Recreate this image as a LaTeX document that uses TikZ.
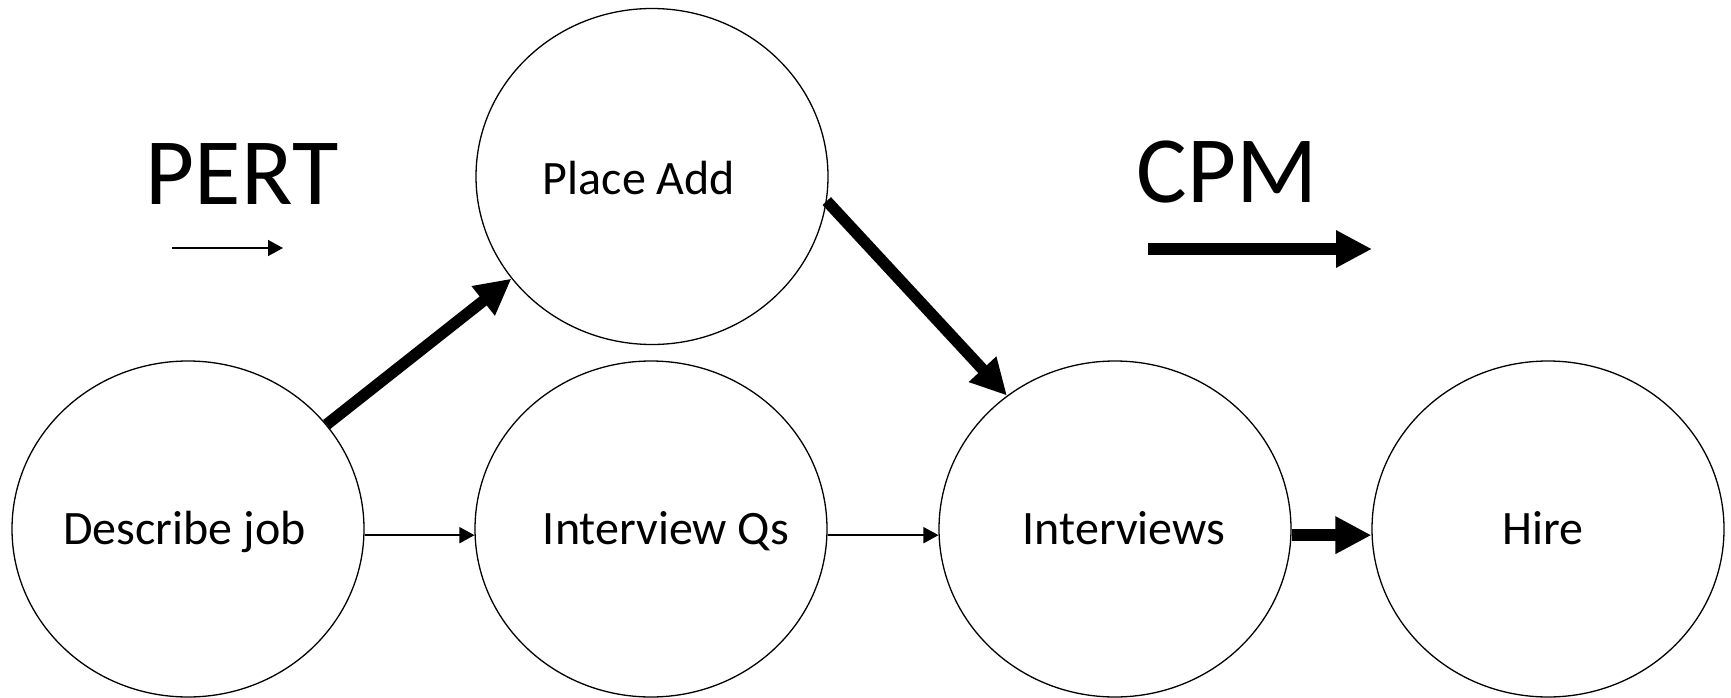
\documentclass[tikz,border=0pt]{standalone}
\usepackage{fontspec}
\setmainfont{Carlito}
\usetikzlibrary{arrows.meta,shapes.geometric}
\begin{document}
\begin{tikzpicture}[x=1pt,y=-1pt,
  event/.style={ellipse, draw=black, line width=1.3pt, minimum width=352pt,
                minimum height=336pt, inner sep=0pt},
  lbl/.style={font=\fontsize{48}{52}\selectfont, anchor=base, inner sep=0pt},
  heading/.style={font=\fontsize{95}{100}\selectfont, anchor=base, inner sep=0pt},
  pertarrow/.style={line width=1.5pt, -{Triangle[length=15pt,width=16pt]}},
  cpmarrow/.style={line width=11.5pt, -{Triangle[length=36pt,width=35pt]}}
]
\useasboundingbox (0,0) rectangle (1731,698);

% events
\node[event] (dj) at (188,529) {};
\node[event] (pa) at (652,176.5) {};
\node[event] (qs) at (651,529) {};
\node[event] (iv) at (1115,529) {};
\node[event] (hi) at (1548,529) {};

% event names
\node[lbl] (djt) at (184.5,544) {Describe job};
\node[lbl] (pat) at (639,194) {Place Add};
\node[lbl] (qst) at (666,544) {Interview Qs};
\node[lbl] (ivt) at (1124,544) {Interviews};
\node[lbl] (hit) at (1543,544) {Hire};

% legend
\node[heading] (pert) at (242,204) {PERT};
\node[heading] (cpm) at (1227,202) {CPM};
\coordinate (pert1) at (172,248);
\coordinate (pert2) at (283,248);
\coordinate (cpm1) at (1148,249);
\coordinate (cpm2) at (1372,249);
\draw[pertarrow] (pert1) -- (pert2);
\draw[cpmarrow] (cpm1) -- (cpm2);

% activities
\draw[pertarrow] (dj.-2.7) -- (qs.182.7);
\draw[pertarrow] (qs.-2.7) -- (iv.182.7);
\draw[cpmarrow] (dj.37) -- (pa.216);
\draw[cpmarrow] (pa.-8) -- (iv.129);
\draw[cpmarrow] (iv.-2.7) -- (hi.182.7);
\end{tikzpicture}
\end{document}
